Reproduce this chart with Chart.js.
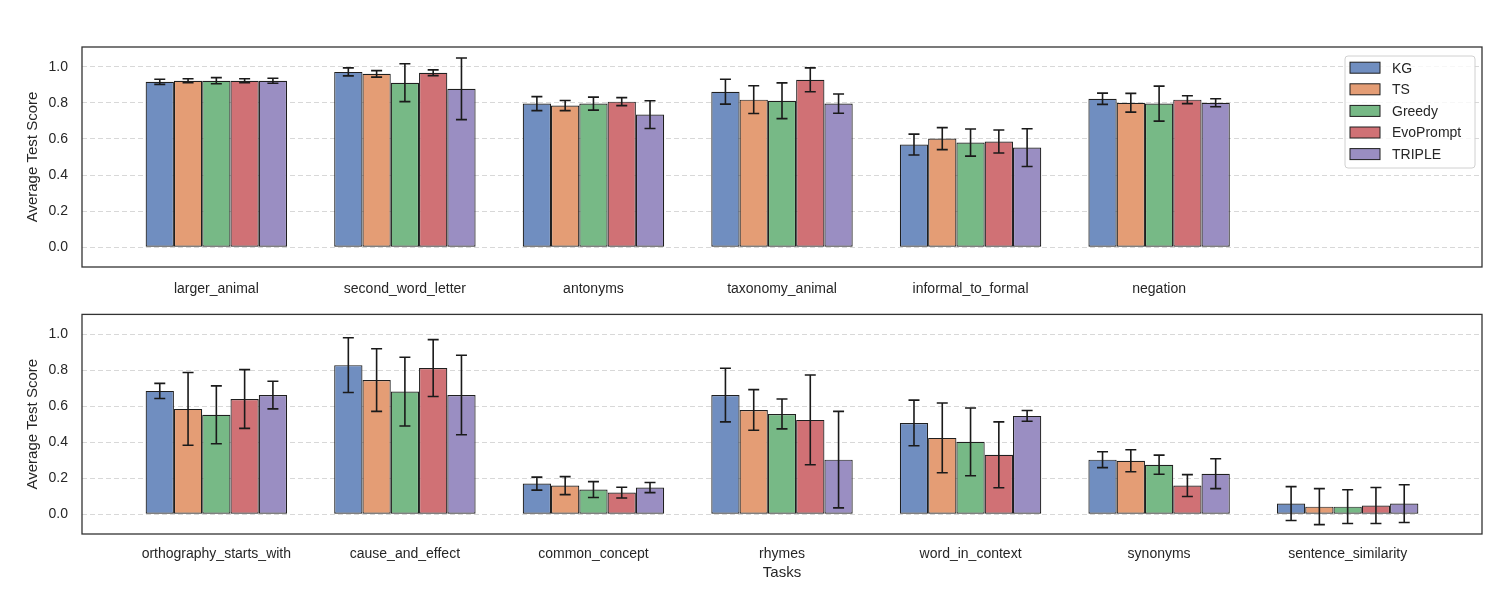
<!DOCTYPE html>
<html lang="en">
<head>
<meta charset="UTF-8">
<title>Average Test Score by Task</title>
<script src="https://cdn.jsdelivr.net/npm/chart.js"></script>
<style>
  body { margin: 0; background: #ffffff; }
  canvas { display: block; }
  #bottomChart { margin-top: -8px; }
</style>
</head>
<body>
<canvas id="topChart" width="1500" height="300"></canvas>
<canvas id="bottomChart" width="1500" height="308"></canvas>
<script>
// methods and colours (seaborn deep, alpha 0.8 on white)
const methods = ['KG', 'TS', 'Greedy', 'EvoPrompt', 'TRIPLE'];
const colors = ['#708ec0', '#e49d75', '#77b986', '#d07175', '#9a8ec2'];

const topTasks = ['larger_animal', 'second_word_letter', 'antonyms', 'taxonomy_animal', 'informal_to_formal', 'negation'];
const bottomTasks = ['orthography_starts_with', 'cause_and_effect', 'common_concept', 'rhymes', 'word_in_context', 'synonyms', 'sentence_similarity'];
const yTicks = [0, 0.2, 0.4, 0.6, 0.8, 1.0];

// top panel means / std
const topKG        = [0.917, 0.972, 0.796, 0.862, 0.569, 0.823];
const topTS        = [0.923, 0.961, 0.785, 0.818, 0.602, 0.801];
const topGreedy    = [0.923, 0.912, 0.796, 0.812, 0.580, 0.796];
const topEvo       = [0.923, 0.967, 0.807, 0.928, 0.586, 0.818];
const topTriple    = [0.923, 0.878, 0.735, 0.796, 0.552, 0.801];
const topKGErr     = [0.014, 0.022, 0.039, 0.069, 0.058, 0.031];
const topTSErr     = [0.011, 0.018, 0.028, 0.077, 0.061, 0.052];
const topGreedyErr = [0.017, 0.105, 0.036, 0.099, 0.075, 0.097];
const topEvoErr    = [0.011, 0.016, 0.022, 0.066, 0.064, 0.022];
const topTripleErr = [0.014, 0.171, 0.077, 0.053, 0.105, 0.022];

// bottom panel means / std
const botKG        = [0.685, 0.828, 0.170, 0.662, 0.507, 0.303, 0.059];
const botTS        = [0.585, 0.745, 0.159, 0.579, 0.424, 0.297, 0.042];
const botGreedy    = [0.552, 0.681, 0.137, 0.557, 0.402, 0.275, 0.042];
const botEvo       = [0.640, 0.812, 0.120, 0.524, 0.330, 0.159, 0.048];
const botTriple    = [0.662, 0.662, 0.148, 0.303, 0.546, 0.225, 0.059];
const botKGErr     = [0.042, 0.152, 0.036, 0.149, 0.127, 0.044, 0.094];
const botTSErr     = [0.202, 0.174, 0.050, 0.113, 0.194, 0.061, 0.100];
const botGreedyErr = [0.161, 0.191, 0.044, 0.083, 0.188, 0.053, 0.094];
const botEvoErr    = [0.163, 0.158, 0.030, 0.249, 0.183, 0.061, 0.100];
const botTripleErr = [0.077, 0.221, 0.028, 0.268, 0.030, 0.083, 0.105];

const FONT = "'Liberation Sans', Arial, sans-serif";
const TEXT = '#262626';

// error bars, frame and legend
const extras = {
    id: 'extras',
    afterDatasetsDraw(chart, args, opts) {
        const ctx = chart.ctx;
        const y = chart.scales.y;
        ctx.save();
        ctx.strokeStyle = '#1a1a1a';
        ctx.lineWidth = 1.6;
        chart.data.datasets.forEach((ds, di) => {
            const meta = chart.getDatasetMeta(di);
            meta.data.forEach((bar, i) => {
                const v = ds.data[i].y, e = ds.errs[i];
                const hi = y.getPixelForValue(v + e), lo = y.getPixelForValue(v - e);
                ctx.beginPath();
                ctx.moveTo(bar.x, hi); ctx.lineTo(bar.x, lo);
                ctx.moveTo(bar.x - 5.5, hi); ctx.lineTo(bar.x + 5.5, hi);
                ctx.moveTo(bar.x - 5.5, lo); ctx.lineTo(bar.x + 5.5, lo);
                ctx.stroke();
            });
        });
        const a = chart.chartArea;
        ctx.strokeStyle = '#333333';
        ctx.lineWidth = 1.3;
        ctx.strokeRect(a.left, a.top, a.right - a.left, a.bottom - a.top);

        if (opts.legend) {
            const bx = 1345, by = 56, bw = 130, bh = 112;
            ctx.fillStyle = 'rgba(255,255,255,0.8)';
            ctx.strokeStyle = '#d0d0d0';
            ctx.lineWidth = 1;
            ctx.beginPath();
            ctx.roundRect(bx, by, bw, bh, 3);
            ctx.fill(); ctx.stroke();
            ctx.font = '14px ' + FONT;
            ctx.textBaseline = 'middle';
            chart.data.datasets.forEach((ds, di) => {
                const cy = 67.7 + di * 21.6;
                ctx.fillStyle = ds.backgroundColor;
                ctx.fillRect(1350, cy - 5.5, 30, 11);
                ctx.strokeStyle = '#1f1f1f';
                ctx.strokeRect(1350, cy - 5.5, 30, 11);
                ctx.fillStyle = TEXT;
                ctx.fillText(ds.label, 1392, cy + 1);
            });
        }
        ctx.restore();
    }
};

function makeChart(id, tasks, means, errs, cfg) {
    const datasets = methods.map((m, k) => ({
        label: m,
        data: means[k].map((v, i) => ({ x: i, y: v })),
        errs: errs[k],
        backgroundColor: colors[k],
        borderColor: '#1f1f1f',
        borderWidth: 1.2,
        borderSkipped: false,
        categoryPercentage: 0.75,
        barPercentage: 1.0
    }));
    return new Chart(document.getElementById(id), {
        type: 'bar',
        data: { datasets: datasets },
        plugins: [extras],
        options: {
            responsive: false,
            animation: false,
            layout: { padding: { top: cfg.padTop, right: 18, left: 0, bottom: 0 } },
            plugins: {
                legend: { display: false },
                tooltip: { enabled: false },
                extras: { legend: cfg.legend }
            },
            scales: {
                x: {
                    type: 'linear',
                    offset: false,
                    min: -0.7125,
                    max: 6.7125,
                    afterBuildTicks: s => { s.ticks = tasks.map((t, i) => ({ value: i })); },
                    afterFit: s => { s.height = cfg.xHeight; },
                    grid: { display: false, drawTicks: false },
                    border: { display: false },
                    ticks: {
                        callback: v => tasks[v],
                        autoSkip: false, maxRotation: 0,
                        color: TEXT, padding: cfg.xPad,
                        font: { family: FONT, size: 14 }
                    },
                    title: {
                        display: cfg.xTitle, text: 'Tasks', color: TEXT,
                        font: { family: FONT, size: 15 },
                        padding: { top: 2, bottom: 18 }
                    }
                },
                y: {
                    min: -0.11,
                    max: 1.11,
                    afterBuildTicks: s => { s.ticks = yTicks.map(v => ({ value: v })); },
                    afterFit: s => { s.width = 82; },
                    grid: { color: '#d8d8d8', lineWidth: 1, drawTicks: false },
                    border: { display: false, dash: [5, 3] },
                    ticks: {
                        callback: v => v.toFixed(1),
                        color: TEXT, padding: 14,
                        font: { family: FONT, size: 14 }
                    },
                    title: {
                        display: true, text: 'Average Test Score', color: TEXT,
                        font: { family: FONT, size: 15 },
                        padding: { top: 24, bottom: 0 }
                    }
                }
            }
        }
    });
}

makeChart('topChart', topTasks,
    [topKG, topTS, topGreedy, topEvo, topTriple],
    [topKGErr, topTSErr, topGreedyErr, topEvoErr, topTripleErr],
    { padTop: 47, xHeight: 33, xPad: 14, xTitle: false, legend: true });

makeChart('bottomChart', bottomTasks,
    [botKG, botTS, botGreedy, botEvo, botTriple],
    [botKGErr, botTSErr, botGreedyErr, botEvoErr, botTripleErr],
    { padTop: 6, xHeight: 66, xPad: 12, xTitle: true, legend: false });
</script>
</body>
</html>
